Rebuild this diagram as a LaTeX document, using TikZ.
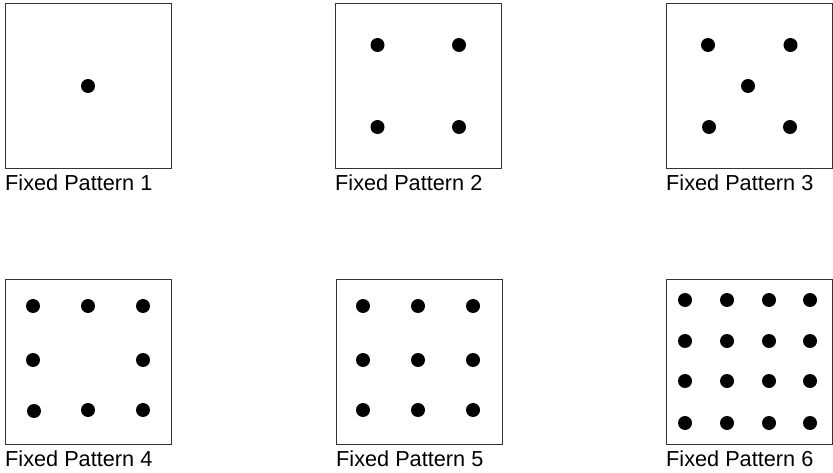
\documentclass[tikz,border=0pt]{standalone}
\usepackage{fontspec}
\setmainfont{Liberation Sans}
\begin{document}
\begin{tikzpicture}[x=1pt,y=-1pt,
  framebox/.style={draw=black!80, line width=1pt, anchor=north west, minimum width=166pt, minimum height=165pt, inner sep=0pt},
  dotmark/.style={circle, fill=black, minimum size=14pt, inner sep=0pt},
  caption/.style={anchor=base west, inner sep=0pt, font=\fontsize{21.7}{26}\selectfont}]
\useasboundingbox (0,0) rectangle (833,473);
% row 1
\node[framebox] (b1) at (5,3) {};
\node[framebox] (b2) at (335,3) {};
\node[framebox] (b3) at (665.5,3) {};
\node[caption] (l1) at (5,191) {Fixed Pattern 1};
\node[caption] (l2) at (335,191) {Fixed Pattern 2};
\node[caption] (l3) at (666,191) {Fixed Pattern 3};
\node[dotmark] (d1a) at (88,86) {};
\foreach \x/\y [count=\i] in {377.5/45,459/45,377.5/127,459/127}
  \node[dotmark] (d2\i) at (\x,\y) {};
\foreach \x/\y [count=\i] in {708/45,790.5/45,748/86,709/127,790/127}
  \node[dotmark] (d3\i) at (\x,\y) {};
% row 2
\node[framebox] (b4) at (5,279) {};
\node[framebox] (b5) at (335.5,279) {};
\node[framebox] (b6) at (665.5,279) {};
\node[caption] (l4) at (5,466) {Fixed Pattern 4};
\node[caption] (l5) at (336,466) {Fixed Pattern 5};
\node[caption] (l6) at (666,466) {Fixed Pattern 6};
\foreach \x/\y [count=\i] in {33/306,88/306,143/306,33/360,143/360,34/411,88/410,143/410}
  \node[dotmark] (d4\i) at (\x,\y) {};
\foreach \x/\y [count=\i] in {363/306,418/306,473/306,363/360,418/360,473/360,363/410,418/410,473/410}
  \node[dotmark] (d5\i) at (\x,\y) {};
\foreach \y [count=\j] in {300,341,381,423}
  \foreach \x [count=\i] in {685,727,769,810}
    \node[dotmark] (d6\j\i) at (\x,\y) {};
\end{tikzpicture}
\end{document}
